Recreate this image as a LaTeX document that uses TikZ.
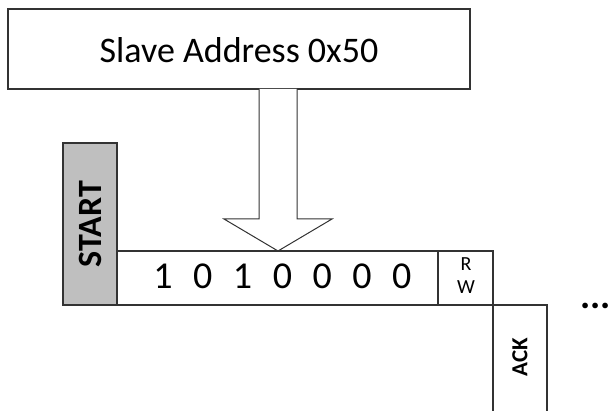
\documentclass[tikz,border=0pt]{standalone}
\usepackage{fontspec}
\setmainfont{Carlito}
\begin{document}
\begin{tikzpicture}[x=1pt,y=-1pt,
  frame/.style={draw=black!80,line width=1.2pt},
  bigtext/.style={font=\fontsize{36}{40}\selectfont},
  digit/.style={font=\fontsize{38}{40}\selectfont,inner sep=0pt},
  vlabel/.style={font=\bfseries\fontsize{34}{36}\selectfont,rotate=90,inner sep=0pt},
  small/.style={font=\fontsize{20}{22}\selectfont,inner sep=0pt}]
\useasboundingbox (0,0) rectangle (608,411);
% address box
\draw[frame] (8,9) rectangle (470,89);
\node[bigtext] (addr) at (239,50) {Slave Address 0x50};
% block arrow from the address down to the bit field
\draw[frame,line width=1pt,fill=white] (259,89) -- (259,219) -- (224,219) -- (278,251)
  -- (332,219) -- (297,219) -- (297,89);
% start bit
\draw[frame,fill=black!25] (63,143) rectangle (117,305);
\node[vlabel] (start) at (90,224) {START};
% address bits
\draw[frame] (117,251) rectangle (438,305);
\foreach \b [count=\i from 0] in {1,0,1,0,0,0,0}
  \node[digit] (b\i) at ({163+39.8*\i},276) {\b};
% read/write bit
\draw[frame] (438,251) rectangle (493,305);
\node[small] (r) at (466,264) {R};
\node[small] (w) at (466,287) {W};
% acknowledge bit
\draw[frame] (547,411) -- (547,305) -- (493,305) -- (493,411);
\node[vlabel,font=\bfseries\fontsize{23}{25}\selectfont] (ack) at (520,357) {ACK};
% continuation
\node[font=\bfseries\fontsize{38}{40}\selectfont,anchor=west,inner sep=0pt] (dots) at (580,306) {...};
\end{tikzpicture}
\end{document}
